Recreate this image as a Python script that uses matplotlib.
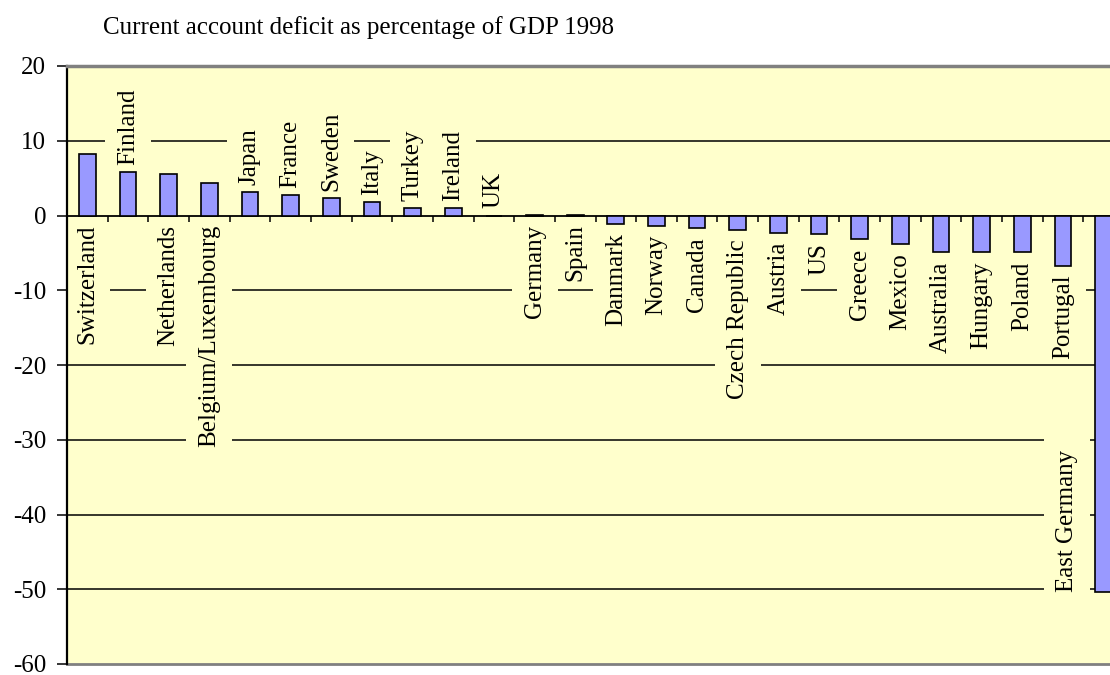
import numpy as np
import matplotlib
matplotlib.use('Agg')
import matplotlib.pyplot as plt
from matplotlib.patches import Rectangle

plt.rcParams['font.family'] = ['Liberation Serif', 'DejaVu Serif']
plt.rcParams['axes.unicode_minus'] = False

TITLE = "Current account deficit as percentage of GDP 1998"

countries = ["Switzerland", "Finland", "Netherlands", "Belgium/Luxembourg", "Japan",
             "France", "Sweden", "Italy", "Turkey", "Ireland", "UK", "Germany", "Spain",
             "Danmark", "Norway", "Canada", "Czech Republic", "Austria", "US", "Greece",
             "Mexico", "Australia", "Hungary", "Poland", "Portugal", "East Germany"]
values = [8.2, 5.8, 5.5, 4.4, 3.1, 2.8, 2.4, 1.8, 1.0, 1.0, 0.0, 0.1, 0.1,
          -1.15, -1.4, -1.7, -2.0, -2.3, -2.5, -3.2, -3.8, -4.9, -4.9, -4.9, -6.7, -50.4]

# labels Excel dropped below the axis even though the bar is positive
below_axis = ["Switzerland", "Netherlands", "Belgium/Luxembourg", "Germany", "Spain"]

BG = "#FFFFCC"
BAR = "#9999FF"

fig = plt.figure(figsize=(11.1, 6.75), dpi=100)
# plot area runs past the right edge of the picture (cropped chart)
ax = fig.add_axes([67 / 1110, 11 / 675, 1057 / 1110, 598 / 675])
ax.set_facecolor(BG)

x = np.arange(len(countries))
ax.bar(x, values, width=0.41, color=BAR, edgecolor="black", linewidth=1.2, zorder=3)

ax.set_xlim(-0.5, len(countries) - 0.5)
ax.set_ylim(-60, 20)
ax.set_yticks(np.arange(-60, 21, 10))
ax.set_xticks(np.arange(-0.5, len(countries), 1))
ax.set_xticklabels([])

for g in [10, -10, -20, -30, -40, -50]:
    ax.axhline(g, color="black", linewidth=1.1, zorder=1)

ax.spines["bottom"].set_position(("data", 0))
ax.spines["bottom"].set_linewidth(1.3)
ax.spines["left"].set_linewidth(1.6)
ax.spines["right"].set_visible(False)
ax.spines["top"].set_color("#808080")
ax.spines["top"].set_linewidth(2.5)
ax.axhline(-60, color="#808080", linewidth=2.0, clip_on=False, zorder=2)

ax.tick_params(axis="y", direction="out", length=7, width=1.1, labelsize=18, pad=8)
ax.tick_params(axis="x", direction="out", length=4.5, width=1.1)

labels = []
for i, (name, v) in enumerate(zip(countries, values)):
    if name == "East Germany":
        t = ax.annotate(name, (i - 0.9, v), xytext=(0, 0), textcoords="offset pixels",
                        rotation=90, ha="center", va="bottom", fontsize=18, zorder=2)
    elif name in below_axis:
        t = ax.annotate(name, (i, 0), xytext=(0, -9), textcoords="offset pixels",
                        rotation=90, ha="center", va="top", fontsize=18, zorder=2)
    elif v >= 0:
        t = ax.annotate(name, (i, v), xytext=(0, 7), textcoords="offset pixels",
                        rotation=90, ha="center", va="bottom", fontsize=18, zorder=2)
    else:
        t = ax.annotate(name, (i, v), xytext=(0, -9), textcoords="offset pixels",
                        rotation=90, ha="center", va="top", fontsize=18, zorder=2)
    labels.append(t)

fig.text(103 / 1110, 1 - 34 / 675, TITLE, fontsize=18, va="baseline", ha="left")

# label backgrounds hide the gridlines like the Excel data labels do
fig.canvas.draw()
renderer = fig.canvas.get_renderer()
inv = ax.transData.inverted()
hpad = 12
for t in labels:
    vpad = 14 if t.get_text() == "East Germany" else 3
    bb = t.get_window_extent(renderer)
    (x0, y0) = inv.transform((bb.x0 - hpad, bb.y0 - vpad))
    (x1, y1) = inv.transform((bb.x1 + hpad, bb.y1 + vpad))
    ax.add_patch(Rectangle((x0, y0), x1 - x0, y1 - y0, facecolor=BG,
                           edgecolor="none", zorder=1.5))

fig.savefig("out.png", dpi=100)
